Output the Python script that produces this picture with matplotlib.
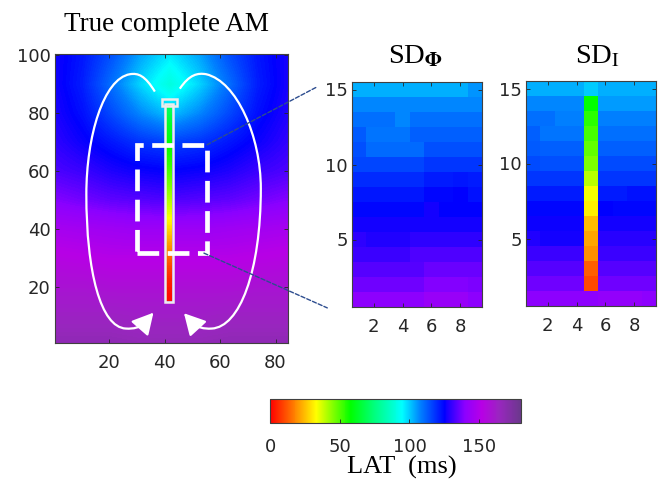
import numpy as np
import matplotlib
matplotlib.use("Agg")
import matplotlib.pyplot as plt
from matplotlib.colors import LinearSegmentedColormap
from matplotlib.patches import Rectangle, PathPatch, ConnectionPatch
from matplotlib.path import Path

plt.rcParams["font.family"] = ["DejaVu Sans"]
plt.rcParams["mathtext.fontset"] = "stix"

# --- data (LAT in ms) ---
main_x = [0, 10.5, 21, 31.5, 42, 52.5, 63, 73.5, 84]
main_y = [0, 10, 20, 30, 40, 50, 60, 70, 80, 90, 100]
# rows listed from y=100 (top) to y=0 (bottom)
main_lat = [
    [127, 122, 114, 104, 97, 104, 114, 122, 127],
    [127, 121, 110, 99, 90, 99, 110, 121, 127],
    [128, 123, 115, 107, 101, 107, 115, 123, 128],
    [130, 126, 122, 118, 116, 118, 122, 126, 130],
    [133, 131, 128, 126, 125, 126, 128, 131, 133],
    [139, 137, 135, 134, 133, 134, 135, 137, 139],
    [147, 146, 145, 144, 144, 144, 145, 146, 147],
    [153, 152, 151, 151, 151, 151, 151, 152, 153],
    [158, 158, 157, 157, 157, 157, 157, 158, 158],
    [163, 163, 163, 162, 162, 162, 163, 163, 163],
    [168, 168, 168, 167, 167, 167, 168, 168, 168],
]

# catheter strip, bottom (y=15) to top (y=83)
strip_y = [15, 20, 25, 30, 35, 40, 45, 50, 55, 60, 65, 70, 75, 80]
strip_lat = [2, 5, 10, 17, 24, 31, 37, 42, 47, 52, 56, 60, 64, 70]

# sub-domain maps, rows from 15 (top) to 1 (bottom), 9 columns
sd_phi = [
    [103, 103, 103, 103, 103, 103, 103, 103, 106],
    [107, 107, 107, 107, 107, 107, 107, 107, 107],
    [110, 110, 110, 107, 110, 110, 110, 110, 110],
    [113, 109, 109, 109, 112, 112, 112, 112, 112],
    [114, 111, 111, 111, 111, 114, 114, 114, 114],
    [116, 116, 116, 116, 116, 118, 118, 118, 118],
    [119, 119, 119, 119, 119, 121, 121, 122, 121],
    [122, 122, 122, 122, 122, 124, 124, 125, 123],
    [124, 124, 124, 124, 124, 127, 125, 125, 125],
    [127, 127, 127, 127, 127, 127, 127, 127, 127],
    [130, 128, 128, 128, 130, 130, 130, 130, 130],
    [131, 131, 131, 131, 133, 133, 133, 133, 133],
    [134, 134, 134, 134, 134, 136, 136, 136, 136],
    [137, 137, 137, 137, 137, 139, 139, 139, 138],
    [140, 140, 140, 140, 140, 143, 143, 143, 140],
]
sd_i = [
    [103, 103, 103, 103, 100, 103, 103, 103, 103],
    [107, 107, 107, 107, 58, 105, 105, 105, 105],
    [110, 110, 108, 108, 54, 108, 108, 108, 108],
    [112, 109, 109, 109, 51, 110, 110, 110, 110],
    [113, 112, 112, 112, 48, 112, 112, 112, 112],
    [115, 114, 114, 114, 45, 115, 115, 115, 115],
    [118, 118, 118, 118, 40, 118, 118, 118, 118],
    [121, 121, 121, 121, 34, 121, 121, 123, 123],
    [124, 124, 124, 124, 31, 125, 124, 124, 124],
    [126, 126, 126, 126, 25, 127, 127, 127, 127],
    [128, 127, 127, 127, 22, 129, 129, 129, 129],
    [131, 131, 131, 131, 19, 131, 131, 131, 131],
    [134, 134, 134, 134, 13, 134, 134, 134, 134],
    [137, 137, 137, 137, 10, 137, 137, 137, 137],
    [140, 140, 140, 140, 140, 142, 142, 142, 140],
]

lat_max = 180
cb_ticks = [0, 50, 100, 150]

# colormap nodes
cm_vals = [0, 12, 22, 33, 45, 58, 75, 95, 108, 125, 140, 152, 165, 180]
cm_cols = [(1, 0, 0), (1, 0.35, 0), (1, 0.65, 0), (1, 1, 0), (0.5, 1, 0),
           (0, 1, 0), (0, 1, 0.5), (0, 1, 1), (0, 0.5, 1), (0, 0, 1),
           (0.55, 0, 1), (0.72, 0, 0.9), (0.6, 0.15, 0.75), (0.42, 0.22, 0.55)]
cmap = LinearSegmentedColormap.from_list(
    "lat", list(zip([v / lat_max for v in cm_vals], cm_cols)))

fig = plt.figure(figsize=(6.64, 4.82), dpi=100)
W, H = 664, 482


def px_axes(l, t, r, b):
    return fig.add_axes([l / W, 1 - b / H, (r - l) / W, (b - t) / H])


def style(ax, xpad, ypad):
    ax.tick_params(direction="in", length=3, width=0.6, top=True, right=True,
                   labelsize=13, colors="#262626")
    ax.tick_params(axis="x", pad=xpad)
    ax.tick_params(axis="y", pad=ypad)
    for s in ax.spines.values():
        s.set_color("#404040")
        s.set_linewidth(0.8)


# --- main map ---
ax = px_axes(55, 54, 288, 343)
dx = (main_x[1] - main_x[0]) / 2
dy = (main_y[1] - main_y[0]) / 2
im = ax.imshow(main_lat, cmap=cmap, vmin=0, vmax=lat_max, aspect="auto",
               interpolation="bilinear", origin="upper",
               extent=(main_x[0] - dx, main_x[-1] + dx, main_y[0] - dy, main_y[-1] + dy))
ax.imshow(np.array(strip_lat)[::-1, None], cmap=cmap, vmin=0, vmax=lat_max,
          aspect="auto", interpolation="bilinear", origin="upper",
          extent=(40.6, 42.6, strip_y[0], 83), zorder=2)
ax.add_patch(Rectangle((40.0, 14.8), 3.2, 68.4, fill=False, ec="#ececec", lw=1.8, zorder=3))
ax.add_patch(Rectangle((38.9, 82.6), 5.6, 2.3, fill=False, ec="#ececec", lw=1.8, zorder=3))
ax.add_patch(Rectangle((30.1, 31.6), 25.2, 37.5, fill=False, ec="white", lw=3.4,
                       linestyle=(0, (4.6, 1.8)), zorder=4))

# propagation loops with arrow heads at the lower ends
loops = [
    [(36.5, 87.5), (33, 93), (30.5, 94), (27.5, 93.5),
     (18, 92), (11.8, 72), (11.8, 52),
     (11.8, 25), (17, 6), (26, 5.5),
     (29, 5.3), (31, 6), (32.5, 7)],
    [(45.5, 88.5), (49, 93.5), (52, 94), (55, 93.5),
     (66, 91), (74.7, 72), (74.7, 54),
     (74.7, 25), (67, 6), (57, 5.5),
     (54, 5.3), (52, 6), (50.5, 7)],
]
heads = [((32, 6.6), (36, 11)), ((51, 6.6), (47, 10.8))]
codes = [Path.MOVETO] + [Path.CURVE4] * 12
for verts, (base, tip) in zip(loops, heads):
    ax.add_patch(PathPatch(Path(verts, codes), fill=False, ec="white", lw=1.6, zorder=5))
    ax.annotate("", xy=tip, xytext=base,
                arrowprops=dict(arrowstyle="-|>,head_length=0.65,head_width=0.35",
                                mutation_scale=20, color="white", lw=1.6,
                                shrinkA=0, shrinkB=0), zorder=5)

ax.set_xlim(0.5, 84.5)
ax.set_ylim(0.5, 100.5)
ax.set_xticks([20, 40, 60, 80])
ax.set_yticks([20, 40, 60, 80, 100])
style(ax, 8, 3)

# --- sub-domain maps ---
sd_axes = []
for data, box in [(sd_phi, (352, 82, 482, 307)), (sd_i, (526, 81, 656, 306))]:
    a = px_axes(*box)
    a.imshow(data, cmap=cmap, vmin=0, vmax=lat_max, aspect="auto",
             interpolation="nearest", origin="upper", extent=(0.5, 9.5, 0.5, 15.5))
    a.set_xticks([2, 4, 6, 8])
    a.set_yticks([5, 10, 15])
    style(a, 8, 3)
    sd_axes.append(a)

for xyA, xyB in [((55.3, 69.1), (-0.27, 0.978)), ((54.2, 31.6), (-0.19, -0.004))]:
    con = ConnectionPatch(xyA=xyA, coordsA="data", axesA=ax,
                          xyB=xyB, coordsB="axes fraction", axesB=sd_axes[0],
                          color="#2d4d8f", lw=1.0, linestyle=(0, (3, 1.5)))
    fig.add_artist(con)

# --- titles ---
fig.text(167 / W, 1 - 31 / H, "True complete AM", family="Liberation Serif",
         fontsize=19.5, ha="center", va="baseline")
fig.text(416 / W, 1 - 63 / H, r"SD$_{\mathbf{\Phi}}$", family="Liberation Serif",
         fontsize=20.5, ha="center", va="baseline")
fig.text(598 / W, 1 - 63 / H, r"SD$_{\mathrm{I}}$", family="Liberation Serif",
         fontsize=20.5, ha="center", va="baseline")

# --- colorbar ---
cax = px_axes(270, 399, 521, 423)
cb = fig.colorbar(im, cax=cax, orientation="horizontal", ticks=cb_ticks)
cb.outline.set_edgecolor("#404040")
cb.outline.set_linewidth(0.8)
cax.tick_params(direction="in", length=3, width=0.6, pad=11, labelsize=13, colors="#262626")
fig.text(402 / W, 1 - 474 / H, "LAT  (ms)", family="Liberation Serif",
         fontsize=19, ha="center", va="baseline")

fig.savefig("out.png", dpi=100)
